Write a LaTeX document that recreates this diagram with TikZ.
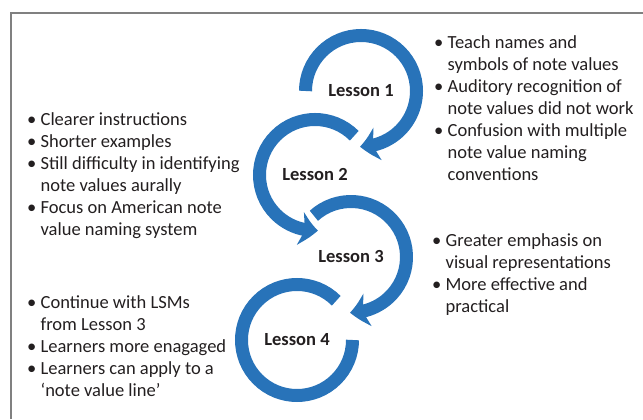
\documentclass[tikz,border=0pt]{standalone}
\usepackage{fontspec}
\setmainfont{Carlito}
\usepackage{tikz}
\usetikzlibrary{arrows.meta, bending, positioning}
\definecolor{lessonblue}{RGB}{40,115,185}
\definecolor{inkgrey}{RGB}{35,31,32}
\newcommand{\ind}{\phantom{\textbullet\ }}
\tikzset{
    frame/.style={draw=black!50, line width=1.3pt},
    lesson/.style={font=\bfseries\fontsize{15.8}{18.8}\selectfont, text=inkgrey},
    notes/.style={anchor=north west, align=left, inner sep=0pt, font=\fontsize{15.8}{18.8}\selectfont, text=inkgrey},
    ring/.style={draw=lessonblue, line width=11.1pt},
    ringarrow/.style={ring, -{Stealth[length=15pt, width=28pt, inset=4pt, bend]}}
}

\begin{document}
\begin{tikzpicture}[x=0.03cm, y=0.03cm]
        \useasboundingbox (0,0) rectangle (643,419);
        % Frame
        \draw[frame] (11,0) -- (11,406) -- (643,406);

        % Lessons
        \node[lesson] (l1) at (361,328) {Lesson 1};
        \node[lesson] (l2) at (315,244) {Lesson 2};
        \node[lesson] (l3) at (351,162) {Lesson 3};
        \node[lesson] (l4) at (297,79) {Lesson 4};

        % Rings
        \draw[ringarrow] ([shift={(180:55.5)}]l1.center) arc[start angle=180, end angle=-91, radius=55.5];
        \draw[ringarrow] ([shift={(45:55.5)}]l2.center) arc[start angle=45, end angle=273, radius=55.5];
        \draw[ringarrow] ([shift={(132:55.5)}]l3.center) arc[start angle=132, end angle=-91, radius=55.5];
        \draw[ring] ([shift={(45:55.5)}]l4.center) arc[start angle=45, end angle=360, radius=55.5];

        % Notes
        \node[notes] (n1) at (434,384) {\textbullet\ Teach names and\\ \ind symbols of note values\\
            \textbullet\ Auditory recognition of\\ \ind note values did not work\\
            \textbullet\ Confusion with multiple\\ \ind note value naming\\ \ind conventions};
        \node[notes] (n2) at (27,307) {\textbullet\ Clearer instructions\\
            \textbullet\ Shorter examples\\
            \textbullet\ Still difficulty in identifying\\ \ind note values aurally\\
            \textbullet\ Focus on American note\\ \ind value naming system};
        \node[notes] (n3) at (432,186) {\textbullet\ Greater emphasis on\\ \ind visual representations\\
            \textbullet\ More effective and\\ \ind practical};
        \node[notes] (n4) at (27,124) {\textbullet\ Continue with LSMs\\ \ind from Lesson 3\\
            \textbullet\ Learners more enagaged\\
            \textbullet\ Learners can apply to a\\ \ind `note value line'};
\end{tikzpicture}
\end{document}
